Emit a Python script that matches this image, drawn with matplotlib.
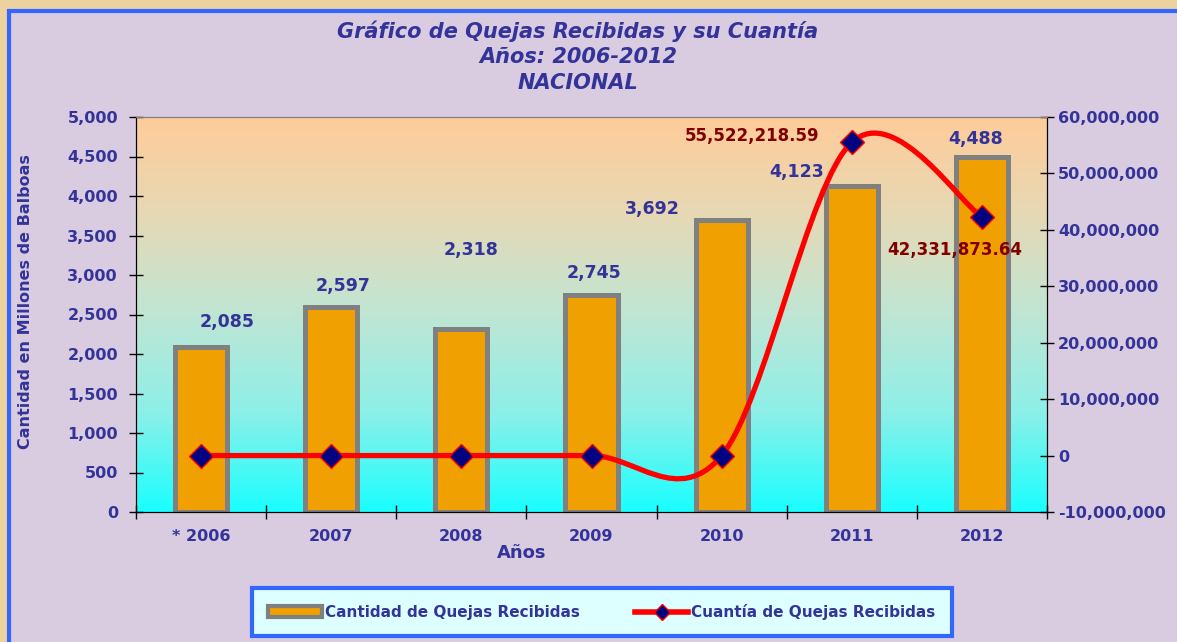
import numpy as np
import matplotlib.pyplot as plt
from matplotlib.path import Path
from matplotlib.patches import PathPatch, Rectangle, Patch
from matplotlib.lines import Line2D
from matplotlib.colors import LinearSegmentedColormap

# datos del grafico
anios = ["* 2006", "2007", "2008", "2009", "2010", "2011", "2012"]
quejas = [2085, 2597, 2318, 2745, 3692, 4123, 4488]
cuantia = [0, 0, 0, 0, 0, 55522218.59, 42331873.64]
cuantia_txt = ["", "", "", "", "", "55,522,218.59", "42,331,873.64"]

# desplazamiento de etiquetas (pixeles), como en el excel original
off_quejas = [(26, 25), (12, 21), (10, 79), (3, 22), (-69, 11), (-55, 14), (-6, 18)]
off_cuantia = [None, None, None, None, None, (-100, 6), (-27, -33)]

azul = "#333399"
rojo_osc = "#800000"
fuente = "DejaVu Sans"

fig = plt.figure(figsize=(11.77, 6.42), dpi=100)
fig.patch.set_facecolor("#EBD29E")
# panel lila con borde azul
panel = Rectangle((9/1177, -0.1), 1.2, 1.1 - 11/642, transform=fig.transFigure,
                  facecolor="#D9CCE1", edgecolor="#3366FF", linewidth=3, zorder=-5)
fig.patches.append(panel)

ax = fig.add_axes([136/1177, 1-512/642, 911/1177, 395/642])
ax2 = ax.twinx()

# fondo degradado
cmap = LinearSegmentedColormap.from_list("fondo", [
    (0.0, (0.10, 1.00, 1.00)),
    (0.25, (0.55, 0.94, 0.91)),
    (0.5, (0.75, 0.90, 0.83)),
    (0.75, (0.90, 0.85, 0.71)),
    (1.0, (1.00, 0.80, 0.60))])
ax.imshow(np.linspace(0, 1, 256).reshape(-1, 1), extent=(-0.5, 6.5, 0, 5000),
          aspect="auto", cmap=cmap, origin="lower", zorder=0)

x = np.arange(len(anios))
bars = ax.bar(x, quejas, width=0.40, color="#F0A000", edgecolor="#808080",
              linewidth=3.6, zorder=2)
for i, b in enumerate(bars):
    ax.annotate(f"{quejas[i]:,}", (b.get_x()+b.get_width()/2, b.get_height()),
                xytext=off_quejas[i], textcoords="offset pixels", ha="center", va="center",
                color=azul, fontsize=12.5, fontweight="bold", family=fuente, zorder=5)

ax.set_xlim(-0.5, 6.5)
ax.set_ylim(0, 5000)
ax.set_yticks(np.arange(0, 5001, 500))
ax.set_yticklabels([f"{v:,}" for v in range(0, 5001, 500)])
ax.set_xticks(x)
ax.set_xticklabels(anios)
ax.set_xticks(np.arange(-0.5, 7, 1), minor=True)
ax.tick_params(axis="x", which="major", length=0, pad=12)
ax.tick_params(axis="x", which="minor", length=10, direction="inout", width=1)
ax.tick_params(axis="y", length=10, direction="inout", width=1, pad=8)
for lbl in ax.get_xticklabels() + ax.get_yticklabels():
    lbl.set_color(azul)
    lbl.set_fontweight("bold")
    lbl.set_fontsize(11.5)

# curva suavizada (tipo excel) con bezier
pts = np.array([[xi, yi] for xi, yi in zip(x, cuantia)], dtype=float)
n = len(pts)
verts = [tuple(pts[0])]
codes = [Path.MOVETO]
for i in range(n-1):
    t0 = (pts[min(i+1, n-1)] - pts[max(i-1, 0)]) / 2
    t1 = (pts[min(i+2, n-1)] - pts[i]) / 2
    c1 = pts[i] + t0/3
    c2 = pts[i+1] - t1/3
    verts += [tuple(c1), tuple(c2), tuple(pts[i+1])]
    codes += [Path.CURVE4]*3
curva = PathPatch(Path(verts, codes), facecolor="none", edgecolor="#FF0000",
                  linewidth=3.8, capstyle="round", zorder=3)
ax2.add_patch(curva)
ax2.plot(x, cuantia, linestyle="none", marker="D", markersize=12,
         markerfacecolor="#000080", markeredgecolor="#FF0000", markeredgewidth=1, zorder=4)
for i in range(n):
    if cuantia_txt[i]:
        ax2.annotate(cuantia_txt[i], (x[i], cuantia[i]), xytext=off_cuantia[i],
                     textcoords="offset pixels", ha="center", va="center",
                     color=rojo_osc, fontsize=12, fontweight="bold", family=fuente)

ax2.set_ylim(-10e6, 60e6)
ax2.set_yticks(np.arange(-10e6, 60e6+1, 10e6))
ax2.set_yticklabels([f"{v:,.0f}" for v in np.arange(-10e6, 60e6+1, 10e6)])
ax2.tick_params(axis="y", length=10, direction="inout", width=1, pad=3)
for lbl in ax2.get_yticklabels():
    lbl.set_color(azul)
    lbl.set_fontweight("bold")
    lbl.set_fontsize(11.5)

for a in (ax, ax2):
    a.spines["top"].set_color("#808080")
    a.spines["left"].set_color("black")
    a.spines["right"].set_color("black")
    a.spines["bottom"].set_color("black")

ax.set_ylabel("Cantidad en Millones de Balboas", color=azul, fontsize=11.5,
              fontweight="bold")
ax.yaxis.set_label_coords(-0.113, 0.532)
fig.text(522/1177, 1-553/642, "Años", color=azul, fontsize=13, fontweight="bold",
         ha="center", va="center")

# titulo
titulos = ["Gráfico de Quejas Recibidas y su Cuantía", "Años: 2006-2012", "NACIONAL"]
for k, t in enumerate(titulos):
    fig.text(578/1177, 1-(31+26*k)/642, t, color=azul, fontsize=15, fontweight="bold",
             style="italic", ha="center", va="center")

# leyenda
handles = [Patch(facecolor="#F0A000", edgecolor="#808080", linewidth=3),
           Line2D([], [], color="#FF0000", linewidth=4, marker="D", markersize=8,
                  markerfacecolor="#000080", markeredgecolor="#FF0000")]
leg = fig.legend(handles, ["Cantidad de Quejas Recibidas", "Cuantía de Quejas Recibidas"],
                 loc="center", bbox_to_anchor=(602/1177, 1-612/642), ncol=2,
                 frameon=True, fancybox=False, fontsize=11, columnspacing=3.6,
                 handlelength=3.5, handletextpad=0.2, borderpad=1.05)
frame = leg.get_frame()
frame.set_facecolor("#DDFFFF")
frame.set_edgecolor("#3366FF")
frame.set_linewidth(3)
frame.set_alpha(1)
for t in leg.get_texts():
    t.set_color(azul)
    t.set_fontweight("bold")

fig.savefig("out.png", dpi=100)
